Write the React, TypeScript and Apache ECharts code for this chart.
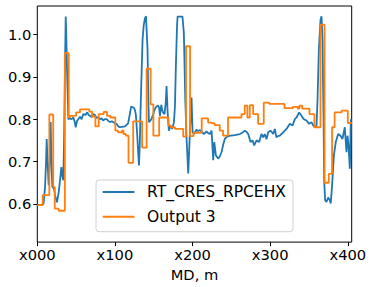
import React, { useEffect, useRef } from "react";
import * as echarts from "echarts";

const seriesNames = ["RT_CRES_RPCEHX", "Output 3"];
const xTicks = [0, 100, 200, 300, 400];
const yTicks = [0.6, 0.7, 0.8, 0.9, 1.0];

const blueMD = [
  0, 4, 8, 10, 11.3, 12.1, 13.2, 14.7, 16, 17.2, 18.2, 19.3, 21.5, 23.5, 25.4, 27.6, 29.5, 31, 32.3, 33.5,
  34.5, 35.5, 36.6, 37.3, 38.2, 40, 42, 44, 46.4, 48, 49.5, 51, 52.8, 55, 57, 59.2, 62, 64.4, 66, 67.8,
  70, 72, 74.2, 76, 78.5, 80.5, 82.8, 85, 87, 89.3, 91.5, 93.6, 96, 97.9, 100, 102, 104, 106, 109, 113,
  117, 119, 121, 123, 124.5, 126, 127, 128.8, 130, 131, 132, 133, 134, 135.6, 137, 138.6, 140, 140.8, 142, 143,
  143.8, 145, 147, 149, 151.5, 153.5, 155.8, 157, 158, 159.7, 161, 162, 163.9, 165.5, 166.5, 167.8, 169.5, 171.7, 173.8, 176,
  177.3, 178.5, 180, 180.7, 187, 188.8, 190.6, 192.3, 194.4, 195.5, 196.6, 198.7, 200, 202, 205, 207, 209.5, 212, 214.6, 218,
  220, 222.3, 224.5, 226.6, 228, 230, 233, 235, 237.3, 239.5, 241.6, 244, 246, 249, 252.4, 256, 261, 264, 267.4, 269.5,
  271.7, 274.7, 277.3, 279.4, 282.4, 285.8, 288.8, 291, 293, 295.3, 297.4, 300.4, 302, 303.9, 306, 308, 310, 312.4, 316.7, 321,
  325.3, 328.8, 331.8, 334, 337.3, 340.3, 343.3, 346.8, 350.2, 353.2, 355.5, 357.5, 359.7, 361, 362.7, 364.8, 366.1, 367.4, 368.7, 369.6,
  370.8, 372.5, 374.7, 376.8, 378, 379.8, 382, 384.5, 387.6, 390.6, 393.1, 396.1, 398.3, 399.6, 400.9, 402.6, 403.9,
];
const blueVal = [
  0.598, 0.597, 0.6, 0.64, 0.7, 0.753, 0.7, 0.644, 0.7, 0.793, 0.7, 0.641, 0.636, 0.615, 0.604, 0.628, 0.66, 0.687, 0.665, 0.656,
  0.75, 0.9, 1.042, 1.0, 0.925, 0.8, 0.802, 0.8, 0.804, 0.795, 0.781, 0.795, 0.8, 0.806, 0.8, 0.812, 0.81, 0.816, 0.81, 0.808,
  0.805, 0.812, 0.81, 0.803, 0.804, 0.8, 0.802, 0.797, 0.8, 0.8, 0.796, 0.793, 0.795, 0.793, 0.79, 0.789, 0.784, 0.781, 0.782, 0.783,
  0.79, 0.81, 0.83, 0.828, 0.827, 0.82, 0.81, 0.761, 0.72, 0.691, 0.74, 0.82, 0.886, 0.988, 1.02, 1.038, 1.043, 1.043, 0.964, 0.85,
  0.793, 0.795, 0.8, 0.81, 0.824, 0.83, 0.832, 0.826, 0.808, 0.834, 0.82, 0.816, 0.812, 0.84, 0.878, 0.82, 0.773, 0.785, 0.777, 0.793,
  0.83, 0.925, 1.02, 1.042, 1.042, 1.003, 0.847, 0.754, 0.672, 0.72, 0.769, 0.851, 0.77, 0.765, 0.775, 0.772, 0.774, 0.77, 0.765, 0.771,
  0.767, 0.765, 0.773, 0.703, 0.746, 0.715, 0.707, 0.712, 0.722, 0.74, 0.754, 0.758, 0.76, 0.761, 0.762, 0.763, 0.765, 0.768, 0.773, 0.77,
  0.765, 0.746, 0.75, 0.738, 0.75, 0.746, 0.765, 0.757, 0.765, 0.753, 0.769, 0.773, 0.77, 0.765, 0.777, 0.757, 0.76, 0.761, 0.769, 0.777,
  0.789, 0.785, 0.8, 0.804, 0.816, 0.808, 0.8, 0.797, 0.789, 0.793, 0.785, 0.781, 0.785, 0.847, 0.964, 1.034, 1.043, 0.988, 0.808, 0.652,
  0.609, 0.605, 0.615, 0.609, 0.601, 0.645, 0.714, 0.746, 0.765, 0.761, 0.753, 0.781, 0.722, 0.761, 0.738, 0.683, 0.8,
];

const orangeMD = [
  0, 7, 15.5, 20.5, 22.5, 27.5, 35.5, 40.5, 42, 50, 55, 67, 70.5, 74.8, 79.1, 85.5, 89.8, 94.1, 100.5, 104,
  109, 111, 114, 117.5, 123.5, 135, 140.8, 146, 149.5, 157, 169, 172, 177.4, 188, 191.6, 196.8, 201, 211.8, 220, 225,
  228.5, 235, 239.3, 245.7, 263, 267.2, 270.6, 273.7, 278, 284.4, 291.7, 299, 318.4, 329, 335.6, 337.7, 341.2, 350.6, 357, 364.8,
  370, 375.5, 379.7, 383, 392, 400, 405,
];
const orangeVal = [
  0.597, 0.621, 0.811, 0.64, 0.589, 0.584, 0.956, 0.804, 0.808, 0.816, 0.823, 0.818, 0.806, 0.783, 0.812, 0.817, 0.808, 0.804, 0.773, 0.769,
  0.773, 0.765, 0.761, 0.697, 0.795, 0.733, 0.919, 0.835, 0.761, 0.804, 0.785, 0.781, 0.777, 0.759, 0.972, 0.76, 0.768, 0.802, 0.792, 0.79,
  0.786, 0.773, 0.761, 0.804, 0.812, 0.832, 0.804, 0.833, 0.812, 0.789, 0.839, 0.836, 0.826, 0.829, 0.825, 0.832, 0.825, 0.812, 0.781, 1.023,
  0.65, 0.671, 0.781, 0.816, 0.82, 0.791, 0.791,
];

const FONT = "DejaVu Sans";
const AXIS_FS = 14.7;
const LEGEND_FS = 15.5;

export default function App() {
  const ref = useRef<HTMLDivElement>(null);
  useEffect(() => {
    if (!ref.current) return;
    const chart = echarts.init(ref.current, undefined, { renderer: "svg" });
    const blueData = blueMD.map((x, i) => [x, blueVal[i]]);
    const orangeData = orangeMD.map((x, i) => [x, orangeVal[i]]);
    chart.setOption({
      animation: false,
      backgroundColor: "#fff",
      grid: {
        left: 37.3,
        right: 22.3,
        top: 6,
        bottom: 42.7,
        show: true,
        borderColor: "#000",
        borderWidth: 1,
        backgroundColor: "transparent",
      },
      xAxis: {
        type: "value",
        min: 0,
        max: 405,
        name: "MD, m",
        nameLocation: "middle",
        nameGap: 21,
        nameTextStyle: { fontFamily: FONT, fontSize: AXIS_FS, color: "#000" },
        axisLine: { show: false },
        splitLine: { show: false },
        axisTick: { show: true, inside: false, length: 4, lineStyle: { color: "#000" }, customValues: xTicks },
        axisLabel: {
          fontFamily: FONT,
          fontSize: AXIS_FS,
          color: "#000",
          margin: 5,
          customValues: xTicks,
          formatter: (v: number) => "x" + String(Math.round(v)).padStart(3, "0"),
        },
      },
      yAxis: {
        type: "value",
        min: 0.51,
        max: 1.067,
        axisLine: { show: false },
        splitLine: { show: false },
        axisTick: { show: true, inside: false, length: 4, lineStyle: { color: "#000" }, customValues: yTicks },
        axisLabel: {
          fontFamily: FONT,
          fontSize: AXIS_FS,
          color: "#000",
          margin: 6,
          customValues: yTicks,
          formatter: (v: number) => v.toFixed(1),
        },
      },
      legend: {
        orient: "vertical",
        left: 96,
        top: 180,
        padding: [3, 7, 6, 5.7],
        itemGap: 6.7,
        itemWidth: 31.7,
        itemHeight: 14,
        borderColor: "#d0d0d0",
        borderWidth: 1,
        borderRadius: 3,
        backgroundColor: "rgba(255,255,255,0.8)",
        itemStyle: { opacity: 0 },
        textStyle: { fontFamily: FONT, fontSize: LEGEND_FS, color: "#000", padding: [0, 0, 0, 7.7], lineHeight: 18 },
        data: seriesNames,
      },
      series: [
        {
          name: seriesNames[0],
          type: "line",
          data: blueData,
          symbol: "none",
          lineStyle: { color: "#1f77b4", width: 1.8 },
          itemStyle: { color: "#1f77b4" },
        },
        {
          name: seriesNames[1],
          type: "line",
          data: orangeData,
          step: "end",
          symbol: "none",
          lineStyle: { color: "#ff7f0e", width: 1.8 },
          itemStyle: { color: "#ff7f0e" },
        },
      ],
    });
    return () => chart.dispose();
  }, []);
  return <div ref={ref} style={{ position: "fixed", left: 0, top: 0, width: 374, height: 287 }} />;
}
